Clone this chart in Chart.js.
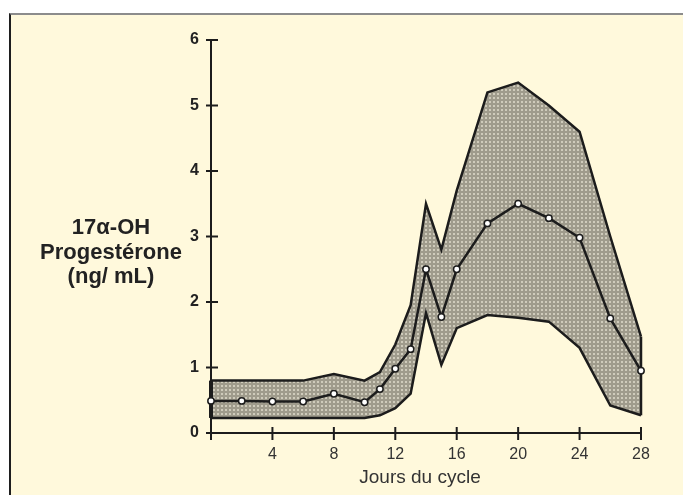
<!DOCTYPE html>
<html>
<head>
<meta charset="utf-8">
<script src="https://cdn.jsdelivr.net/npm/chart.js@4"></script>
<style>
  html, body { margin: 0; padding: 0; background: #fff; }
  #frame {
    position: absolute; left: 9px; top: 13px; right: 0; bottom: 0;
    background: #fff9dc;
    border-top: 2px solid #8c8c8c;
    border-left: 2px solid #1e1e1e;
  }
  #wrap { position: absolute; left: 0; top: 0; width: 683px; height: 495px; }
</style>
</head>
<body>
<div id="frame"></div>
<div id="wrap"><canvas id="chart"></canvas></div>
<script>
// ── Data ──────────────────────────────────────────────────
const days  = [0, 2, 4, 6, 8, 10, 11, 12, 13, 14, 15, 16, 18, 20, 22, 24, 26, 28];
const mean  = [0.49, 0.49, 0.48, 0.48, 0.6, 0.47, 0.67, 0.98, 1.28, 2.5, 1.77, 2.5, 3.2, 3.5, 3.28, 2.98, 1.75, 0.95];
const upper = [0.8, 0.8, 0.8, 0.8, 0.9, 0.8, 0.93, 1.35, 1.95, 3.5, 2.8, 3.7, 5.2, 5.35, 5.0, 4.6, 3.0, 1.47];
const lower = [0.23, 0.23, 0.23, 0.23, 0.23, 0.23, 0.27, 0.38, 0.6, 1.83, 1.04, 1.6, 1.8, 1.76, 1.7, 1.3, 0.42, 0.27];
const yTitle = ['17\u03b1-OH', 'Progest\u00e9rone', '(ng/ mL)'];
const xTitle = 'Jours du cycle';

const pts = arr => days.map((d, i) => ({ x: d, y: arr[i] }));
const last = days.length - 1;

// dotted grey fill like the printed screen
function makePattern() {
  const c = document.createElement('canvas');
  c.width = 4; c.height = 4;
  const g = c.getContext('2d');
  g.fillStyle = '#9f9b8c';
  g.fillRect(0, 0, 4, 4);
  g.fillStyle = '#cfcbbb';
  g.fillRect(1, 1, 2, 2);
  return g.createPattern(c, 'repeat');
}

const ink = '#1c1c1c';

// ── Custom ticks + titles ─────────────────────────────────
const decor = {
  id: 'decor',
  afterDraw(chart) {
    const { ctx, scales: { x, y } } = chart;
    const y0 = y.getPixelForValue(0);
    const x0 = x.getPixelForValue(0);
    ctx.save();
    ctx.strokeStyle = ink;
    ctx.lineWidth = 2;
    y.ticks.forEach(t => {
      const py = y.getPixelForValue(t.value);
      ctx.beginPath(); ctx.moveTo(x0 - 5, py); ctx.lineTo(x0 + 7, py); ctx.stroke();
    });
    x.ticks.forEach(t => {
      if (t.value === 0) return;
      const px = x.getPixelForValue(t.value);
      ctx.beginPath(); ctx.moveTo(px, y0 - 6); ctx.lineTo(px, y0 + 7); ctx.stroke();
    });
    ctx.beginPath(); ctx.moveTo(x0, y0); ctx.lineTo(x0, y0 + 7); ctx.stroke();

    ctx.fillStyle = '#222';
    ctx.textAlign = 'center';
    ctx.textBaseline = 'middle';
    ctx.font = 'bold 22px "Liberation Sans", Arial, sans-serif';
    [228, 253, 277].forEach((py, i) => ctx.fillText(yTitle[i], 111, py));
    ctx.fillStyle = '#333';
    ctx.font = '19px "Liberation Sans", Arial, sans-serif';
    ctx.fillText(xTitle, 420, 478);
    ctx.restore();
  }
};

new Chart(document.getElementById('chart'), {
  type: 'line',
  data: {
    datasets: [
      {
        data: pts(mean),
        borderColor: ink, borderWidth: 2.5,
        pointRadius: 3.2, pointBackgroundColor: '#fff',
        pointBorderColor: ink, pointBorderWidth: 1.5,
        fill: false,
      },
      {
        data: pts(upper),
        borderColor: ink, borderWidth: 2.5, pointRadius: 0,
        backgroundColor: makePattern(), fill: '+1',
      },
      {
        data: pts(lower),
        borderColor: ink, borderWidth: 2.5, pointRadius: 0, fill: false,
      },
      {
        data: [{ x: days[0], y: lower[0] }, { x: days[0], y: upper[0] }],
        borderColor: ink, borderWidth: 4, pointRadius: 0, fill: false,
      },
      {
        data: [{ x: days[last], y: lower[last] }, { x: days[last], y: upper[last] }],
        borderColor: ink, borderWidth: 2.5, pointRadius: 0, fill: false,
      },
    ],
  },
  options: {
    responsive: true,
    maintainAspectRatio: false,
    animation: false,
    clip: false,
    layout: { padding: { top: 40, right: 42, left: 0, bottom: 0 } },
    plugins: {
      legend: { display: false },
      tooltip: { enabled: false },
      filler: { drawTime: 'beforeDatasetsDraw' },
    },
    elements: { line: { tension: 0 } },
    scales: {
      x: {
        type: 'linear', min: 0, max: 28,
        grid: { display: false, drawTicks: false },
        border: { display: true, color: ink, width: 2 },
        ticks: {
          stepSize: 4, padding: 12, color: '#333',
          font: { family: '"Liberation Sans", Arial', size: 16 },
          callback: v => (v === 0 ? '' : v),
        },
        afterFit: s => { s.height = 62; },
      },
      y: {
        min: 0, max: 6,
        grid: { display: false, drawTicks: false },
        border: { display: true, color: ink, width: 2 },
        ticks: {
          stepSize: 1, padding: 12, color: '#222',
          font: { family: '"Liberation Sans", Arial', size: 16, weight: 'bold' },
        },
        afterFit: s => { s.width = 211; },
      },
    },
  },
  plugins: [decor],
});
</script>
</body>
</html>
